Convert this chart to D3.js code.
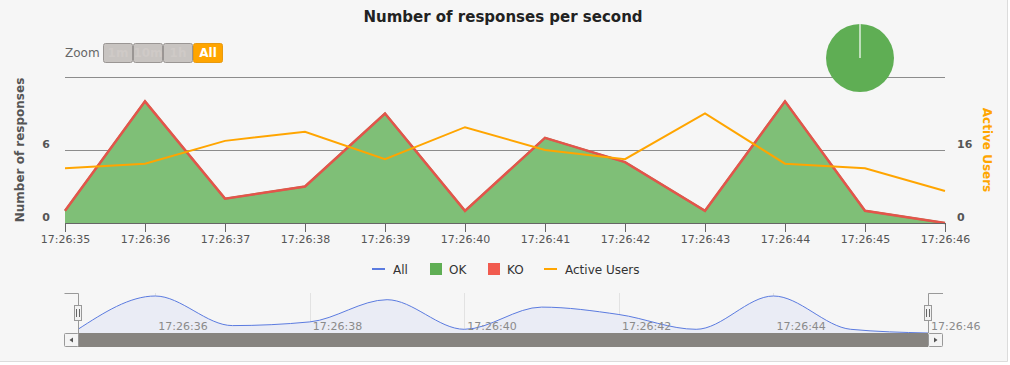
<!DOCTYPE html>
<html>
<head>
<meta charset="utf-8">
<script src="https://cdn.jsdelivr.net/npm/d3@7/dist/d3.min.js"></script>
<style>
  html, body { margin: 0; padding: 0; background: #fff; }
  svg { display: block; font-family: "DejaVu Sans", Verdana, sans-serif; }
</style>
</head>
<body>
<svg id="chart" width="1010" height="365"></svg>
<script>
// responses per second
const times = ["17:26:35", "17:26:36", "17:26:37", "17:26:38", "17:26:39", "17:26:40",
  "17:26:41", "17:26:42", "17:26:43", "17:26:44", "17:26:45", "17:26:46"];
const okValues = [1, 10, 2, 3, 9, 1, 7, 5, 1, 10, 1, 0];
const koValues = [0, 0, 0, 0, 0, 0, 0, 0, 0, 0, 0, 0];
const activeUsers = [12, 13, 18, 20, 14, 21, 16, 14, 24, 13, 12, 7];
const leftTicks = [0, 6];
const rightTicks = [0, 16];
const zoomButtons = ["1m", "10m", "1h", "All"];
const legendNames = ["All", "OK", "KO", "Active Users"];

const C = { all: "#5b7be0", ok: "#5fae54", okFill: "#7fbf77", ko: "#f15b4f", koLine: "#e4544b", users: "#ffa500" };

const parse = d3.timeParse("%H:%M:%S"), fmt = d3.timeFormat("%H:%M:%S");
const rows = times.map((t, i) => ({ t: parse(t), ok: okValues[i], ko: koValues[i], users: activeUsers[i], all: okValues[i] + koValues[i] }));

const svg = d3.select("#chart");
svg.append("rect").attr("width", 1008).attr("height", 362).attr("fill", "#f6f6f6");
svg.append("path").attr("d", "M1007.5,0V361.5H0").attr("fill", "none").attr("stroke", "#dcdcdc");

// scales
const x = d3.scaleTime().domain(d3.extent(rows, (d) => d.t)).range([65, 945]);
const y = d3.scaleLinear().domain([0, 12]).range([223, 77]);
const y2 = d3.scaleLinear().domain([0, 32]).range([223, 77]);

// title
svg.append("text").attr("x", 503).attr("y", 22).attr("text-anchor", "middle")
  .attr("font-size", "15px").attr("font-weight", "bold").attr("fill", "#222")
  .text("Number of responses per second");

// range selector buttons
svg.append("text").attr("x", 65).attr("y", 57).attr("font-size", "12px").attr("fill", "#666").text("Zoom");
const bx = d3.scaleBand().domain(zoomButtons).range([103, 223]);
const btn = svg.append("g").selectAll("g").data(zoomButtons).join("g")
  .attr("transform", (d) => `translate(${bx(d)},43)`);
btn.append("rect").attr("x", 0.5).attr("y", 0.5).attr("width", bx.bandwidth() - 1).attr("height", 19).attr("rx", 2)
  .attr("fill", (d) => d === "All" ? "#ffa500" : "#c8c4c1").attr("stroke", (d) => d === "All" ? "#e89a10" : "#9a9694");
btn.append("text").attr("x", bx.bandwidth() / 2).attr("y", 14).attr("text-anchor", "middle")
  .attr("font-size", "12px").attr("font-weight", "bold")
  .attr("fill", (d) => d === "All" ? "#fff" : "#cfcac7").text((d) => d);

// grid lines
svg.append("g").selectAll("line").data([6, 12]).join("line")
  .attr("x1", 65).attr("x2", 945).attr("y1", (d) => Math.round(y(d)) + 0.5).attr("y2", (d) => Math.round(y(d)) + 0.5)
  .attr("stroke", "#8c8c8c");

// stacked OK / KO areas
const stack = d3.stack().keys(["ok", "ko"])(rows);
const area = d3.area().x((d) => x(d.data.t)).y0((d) => y(d[0])).y1((d) => y(d[1]));
const topLine = d3.line().x((d) => x(d.data.t)).y((d) => y(d[1]));
svg.append("path").datum(stack[0]).attr("d", area).attr("fill", C.okFill);
svg.append("path").datum(stack[0]).attr("d", topLine).attr("fill", "none").attr("stroke", C.ok).attr("stroke-width", 2);
svg.append("path").datum(stack[1]).attr("d", area).attr("fill", C.ko).attr("opacity", 0.6);
svg.append("path").datum(stack[1]).attr("d", topLine).attr("fill", "none").attr("stroke", C.koLine).attr("stroke-width", 2.5);

// active users
svg.append("path").datum(rows)
  .attr("d", d3.line().x((d) => x(d.t)).y((d) => y2(d.users)))
  .attr("fill", "none").attr("stroke", C.users).attr("stroke-width", 2);

// x axis
const xa = svg.append("g").attr("transform", "translate(0,223)")
  .call(d3.axisBottom(x).ticks(d3.timeSecond.every(1)).tickFormat(fmt).tickSizeInner(9).tickSizeOuter(0).tickPadding(3));
xa.select(".domain").attr("stroke", "#666");
xa.selectAll(".tick line").attr("stroke", "#666");
xa.selectAll("text").attr("font-size", "11px").attr("fill", "#555").attr("font-family", "DejaVu Sans, sans-serif");

// y axes labels
svg.append("g").selectAll("text").data(leftTicks).join("text")
  .attr("x", 50).attr("y", (d) => y(d) - 2).attr("text-anchor", "end")
  .attr("font-size", "11px").attr("font-weight", "bold").attr("fill", "#555").text((d) => d);
svg.append("g").selectAll("text").data(rightTicks).join("text")
  .attr("x", 957).attr("y", (d) => y2(d) - 2)
  .attr("font-size", "11px").attr("font-weight", "bold").attr("fill", "#555").text((d) => d);
svg.append("text").attr("transform", "translate(24,150) rotate(-90)").attr("text-anchor", "middle")
  .attr("font-size", "12px").attr("font-weight", "bold").attr("fill", "#555").text("Number of responses");
svg.append("text").attr("transform", "translate(983,150) rotate(90)").attr("text-anchor", "middle")
  .attr("font-size", "12px").attr("font-weight", "bold").attr("fill", C.users).text("Active Users");

// pie OK vs KO
const pieData = d3.pie().sort(null)([d3.sum(okValues), d3.sum(koValues)]);
const arc = d3.arc().innerRadius(0).outerRadius(34);
const pie = svg.append("g").attr("transform", "translate(860,58)");
pie.selectAll("path").data(pieData).join("path").attr("d", arc).attr("fill", (d, i) => i ? C.ko : C.ok);
pie.selectAll("line").data(pieData.filter((d) => d.endAngle - d.startAngle < 1e-6)).join("line")
  .attr("x1", 0).attr("y1", 0)
  .attr("x2", (d) => 34 * Math.sin(d.startAngle)).attr("y2", (d) => -34 * Math.cos(d.startAngle))
  .attr("stroke", "#fff").attr("stroke-width", 1.2);

// legend
const legend = svg.append("g").attr("font-size", "12px").attr("fill", "#333");
const lgX = [372, 430, 488, 544];
legendNames.forEach((name, i) => {
  const g = legend.append("g").attr("transform", `translate(${lgX[i]},269)`);
  if (name === "OK" || name === "KO") {
    g.append("rect").attr("x", 0).attr("y", -6).attr("width", 12).attr("height", 12).attr("fill", name === "OK" ? C.ok : C.ko);
  } else {
    g.append("line").attr("x1", 0).attr("x2", 13).attr("stroke", name === "All" ? C.all : C.users).attr("stroke-width", 2);
  }
  g.append("text").attr("x", name === "OK" || name === "KO" ? 19 : 21).attr("y", 4.5).attr("fill", "#333").text(name);
});

// navigator
const nx = d3.scaleTime().domain(x.domain()).range([78, 928]);
const ny = d3.scaleLinear().domain([0, d3.max(rows, (d) => d.all)]).range([333, 296]);
const nav = svg.append("g");
const navTicks = nx.ticks(d3.timeSecond.every(2));
nav.selectAll("line.g").data(navTicks).join("line").attr("class", "g")
  .attr("x1", (d) => Math.round(nx(d)) + 0.5).attr("x2", (d) => Math.round(nx(d)) + 0.5)
  .attr("y1", 293).attr("y2", 333).attr("stroke", "#e2e2e2");
nav.append("path").datum(rows)
  .attr("d", d3.area().curve(d3.curveMonotoneX).x((d) => nx(d.t)).y0(333).y1((d) => ny(d.all)))
  .attr("fill", "#eaecf5");
nav.append("path").datum(rows)
  .attr("d", d3.line().curve(d3.curveMonotoneX).x((d) => nx(d.t)).y((d) => ny(d.all)))
  .attr("fill", "none").attr("stroke", C.all).attr("stroke-width", 1);
nav.selectAll("text").data(navTicks).join("text")
  .attr("x", (d) => nx(d) + 3).attr("y", 330).attr("font-size", "11px").attr("fill", "#8a8a8a").text(fmt);
// outline outside selection
nav.append("path").attr("d", `M64.5,293.5H${nx.range()[0] + 0.5}V333 M${nx.range()[1] + 0.5},333V293.5H943`)
  .attr("fill", "none").attr("stroke", "#999");
// handles
nav.selectAll("g.h").data(nx.range()).join("g").attr("class", "h")
  .attr("transform", (d) => `translate(${d},305)`)
  .each(function () {
    const h = d3.select(this);
    h.append("rect").attr("x", -3.5).attr("y", 0.5).attr("width", 7).attr("height", 15).attr("fill", "#f2f2f2").attr("stroke", "#999");
    h.append("path").attr("d", "M-1.5,4V12M1.5,4V12").attr("stroke", "#666");
  });
// scrollbar
nav.append("rect").attr("x", 64).attr("y", 333).attr("width", 879).attr("height", 14).attr("fill", "#eeeeee");
nav.append("rect").attr("x", nx.range()[0]).attr("y", 333).attr("width", nx.range()[1] - nx.range()[0]).attr("height", 14).attr("fill", "#878480");
[[64.5, -1], [928.5, 1]].forEach(([bxp, dir]) => {
  nav.append("rect").attr("x", bxp).attr("y", 333.5).attr("width", 14).attr("height", 13).attr("rx", 1)
    .attr("fill", "#f4f4f4").attr("stroke", "#999");
  const cx = bxp + 7;
  nav.append("path").attr("d", `M${cx + 2 * dir},340L${cx - 1.5 * dir},337.5V342.5Z`).attr("fill", "#555");
});
</script>
</body>
</html>
